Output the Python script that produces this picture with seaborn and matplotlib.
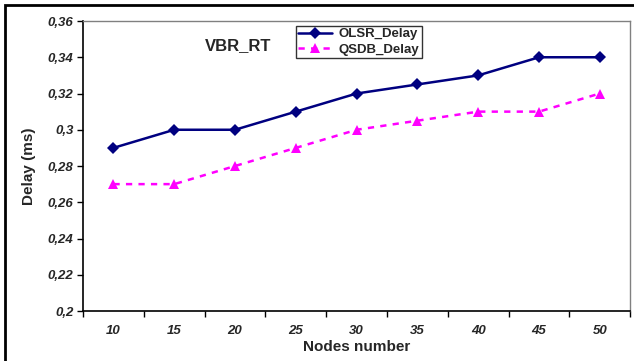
import matplotlib
matplotlib.use("Agg")
import matplotlib.pyplot as plt
import seaborn as sns
import pandas as pd
from matplotlib.patches import Rectangle
from matplotlib.ticker import FixedLocator

nodes = ["10", "15", "20", "25", "30", "35", "40", "45", "50"]
olsr_delay = [0.29, 0.30, 0.30, 0.31, 0.32, 0.325, 0.33, 0.34, 0.34]
qsdb_delay = [0.27, 0.27, 0.28, 0.29, 0.30, 0.305, 0.31, 0.31, 0.32]
y_ticks = [0.20, 0.22, 0.24, 0.26, 0.28, 0.30, 0.32, 0.34, 0.36]
y_tick_labels = ["0,2", "0,22", "0,24", "0,26", "0,28", "0,3", "0,32", "0,34", "0,36"]

sns.set_style("white")
plt.rcParams["font.family"] = ["Liberation Sans", "DejaVu Sans"]

df = pd.DataFrame({
    "pos": list(range(len(nodes))) * 2,
    "delay": olsr_delay + qsdb_delay,
    "series": ["OLSR_Delay"] * len(nodes) + ["QSDB_Delay"] * len(nodes),
})

fig = plt.figure(figsize=(6.34, 3.61), dpi=100)
ax = fig.add_axes([0.131, 0.1385, 0.863, 0.8033])

sns.lineplot(data=df, x="pos", y="delay", hue="series", style="series",
             palette={"OLSR_Delay": "#000080", "QSDB_Delay": "#FF00FF"},
             markers={"OLSR_Delay": "D", "QSDB_Delay": "^"},
             dashes={"OLSR_Delay": "", "QSDB_Delay": (2.5, 2.5)},
             markersize=6.5, linewidth=1.8, markeredgewidth=0, ax=ax, legend=True)

ax.set_xlim(-0.5, len(nodes) - 0.5)
ax.set_ylim(0.2, 0.36)
ax.xaxis.set_major_locator(FixedLocator([i - 0.5 for i in range(len(nodes) + 1)]))
ax.xaxis.set_minor_locator(FixedLocator(list(range(len(nodes)))))
ax.set_xticklabels([""] * (len(nodes) + 1))
ax.set_xticklabels(nodes, minor=True)
ax.tick_params(axis="x", which="major", length=4, width=1, color="black", direction="out", bottom=True)
ax.tick_params(axis="x", which="minor", length=0, pad=10, labelsize=9.5)
ax.set_yticks(y_ticks)
ax.set_yticklabels(y_tick_labels)
ax.tick_params(axis="y", length=4, width=1, color="black", direction="out", left=True, labelsize=9.5, pad=3)
for lab in ax.get_xticklabels(minor=True) + ax.get_yticklabels():
    lab.set_fontweight("bold")
    lab.set_fontstyle("italic")

ax.set_xlabel("Nodes number", fontsize=11, fontweight="bold", labelpad=2)
ax.set_ylabel("Delay (ms)", fontsize=11, fontweight="bold", labelpad=8)

for s in ["left", "bottom"]:
    ax.spines[s].set_color("black")
    ax.spines[s].set_linewidth(1.2)
for s in ["top", "right"]:
    ax.spines[s].set_color("#808080")
    ax.spines[s].set_linewidth(1)

ax.text(0.283, 0.915, "VBR_RT", transform=ax.transAxes, ha="center", va="center",
        fontsize=12, fontweight="bold")

leg = ax.legend(loc="upper left", bbox_to_anchor=(0.389, 0.982), frameon=True,
                fancybox=False, edgecolor="black", prop={"weight": "bold", "size": 9.5},
                handlelength=2.6, borderpad=0.15, labelspacing=0.25, handletextpad=0.5,
                borderaxespad=0)
leg.get_frame().set_linewidth(1)

fig.patches.append(Rectangle((5 / 634, -0.1), 1.2, 1 - 5 / 361 + 0.1,
                             transform=fig.transFigure, fill=False,
                             edgecolor="black", linewidth=2))

fig.savefig("out.png", dpi=100)
